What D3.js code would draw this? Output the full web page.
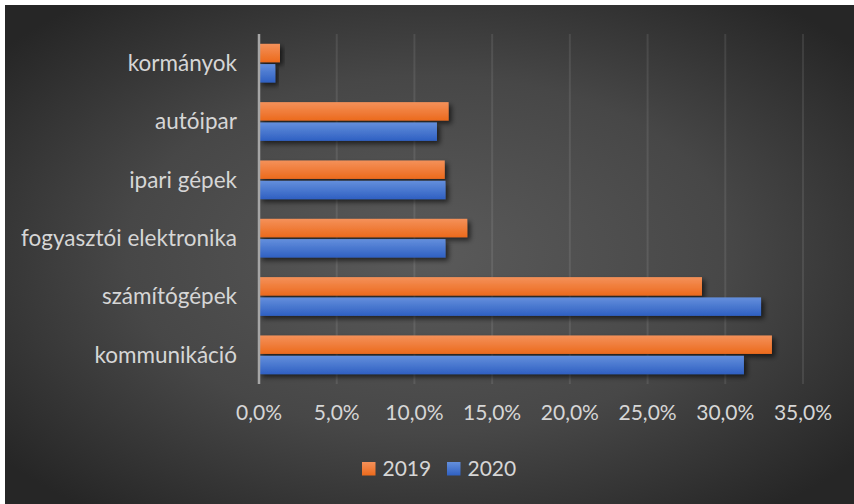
<!DOCTYPE html>
<html>
<head>
<meta charset="utf-8">
<script src="https://cdn.jsdelivr.net/npm/d3@7"></script>
<style>
  body { margin: 0; background: #fff; }
  text { font-family: Lato, "Open Sans", sans-serif; fill: #d6d6d6; }
</style>
</head>
<body>
<div id="chart"></div>
<script>
var categories = ["kormányok", "autóipar", "ipari gépek", "fogyasztói elektronika", "számítógépek", "kommunikáció"];
var seriesNames = ["2019", "2020"];
var values2019 = [1.35, 12.2, 11.95, 13.4, 28.5, 33.0];
var values2020 = [1.05, 11.45, 12.0, 12.0, 32.3, 31.2];
var tickValues = [0, 5, 10, 15, 20, 25, 30, 35];

var width = 854, height = 504;
var seriesValues = { "2019": values2019, "2020": values2020 };

var rows = categories.map(function(c, i) {
  return { cat: c, vals: seriesNames.map(function(s) { return { key: s, value: seriesValues[s][i] }; }) };
});

var svg = d3.select("#chart").append("svg")
  .attr("width", width)
  .attr("height", height);

var defs = svg.append("defs");

var bg = defs.append("radialGradient").attr("id", "bg")
  .attr("cx", "50%").attr("cy", "50%").attr("r", "65%");
bg.append("stop").attr("offset", "0%").attr("stop-color", "#5a5a5a");
bg.append("stop").attr("offset", "55%").attr("stop-color", "#474747");
bg.append("stop").attr("offset", "100%").attr("stop-color", "#262626");

var barColors = {
  "2019": ["#f4915a", "#ec6a1c"],
  "2020": ["#648fdc", "#2f60c2"]
};
seriesNames.forEach(function(s) {
  var g = defs.append("linearGradient").attr("id", "g" + s)
    .attr("x1", 0).attr("y1", 0).attr("x2", 0).attr("y2", 1);
  g.append("stop").attr("offset", "0%").attr("stop-color", barColors[s][0]);
  g.append("stop").attr("offset", "100%").attr("stop-color", barColors[s][1]);
});

var shadow = defs.append("filter").attr("id", "shadow")
  .attr("x", "-10%").attr("y", "-30%").attr("width", "130%").attr("height", "180%");
shadow.append("feDropShadow")
  .attr("dx", 3).attr("dy", 3).attr("stdDeviation", 2.5)
  .attr("flood-color", "#000").attr("flood-opacity", 0.6);

svg.append("rect")
  .attr("x", 5).attr("y", 5)
  .attr("width", width - 5).attr("height", height - 5)
  .attr("fill", "url(#bg)");

var x = d3.scaleLinear().domain([0, 35]).range([259, 803]);

var y = d3.scaleBand()
  .domain(categories)
  .range([34, 384])
  .paddingInner(0.336)
  .paddingOuter(0.168);

var ySub = d3.scaleBand()
  .domain(seriesNames)
  .range([0, y.bandwidth()])
  .paddingInner(0.09);

// gridlines
svg.append("g").selectAll("line")
  .data(tickValues.slice(1))
  .enter()
  .append("line")
  .attr("x1", function(d) { return x(d); })
  .attr("x2", function(d) { return x(d); })
  .attr("y1", 34).attr("y2", 384)
  .attr("stroke", "rgba(255,255,255,0.09)")
  .attr("stroke-width", 2);

// bars
var groups = svg.append("g").selectAll("g")
  .data(rows)
  .enter()
  .append("g")
  .attr("transform", function(d) { return "translate(0," + y(d.cat) + ")"; });

groups.selectAll("rect")
  .data(function(d) { return d.vals; })
  .enter()
  .append("rect")
  .attr("x", x(0))
  .attr("y", function(d) { return ySub(d.key); })
  .attr("width", function(d) { return x(d.value) - x(0); })
  .attr("height", ySub.bandwidth())
  .attr("fill", function(d) { return "url(#g" + d.key + ")"; })
  .attr("filter", "url(#shadow)");

// axis line at zero
svg.append("line")
  .attr("x1", x(0)).attr("x2", x(0))
  .attr("y1", 34).attr("y2", 384)
  .attr("stroke", "#a6a6a6")
  .attr("stroke-width", 2.5);

// category labels
svg.append("g").selectAll("text")
  .data(categories)
  .enter()
  .append("text")
  .attr("x", 237)
  .attr("y", function(d) { return y(d) + y.bandwidth() / 2; })
  .attr("dy", "0.35em")
  .attr("text-anchor", "end")
  .style("font-size", "22.5px")
  .text(function(d) { return d; });

// x tick labels
var hu = d3.formatLocale({ decimal: ",", thousands: " ", grouping: [3], currency: ["", " Ft"] });
var fmt = hu.format(".1f");

svg.append("g").selectAll("text")
  .data(tickValues)
  .enter()
  .append("text")
  .attr("x", function(d) { return x(d); })
  .attr("y", 413)
  .attr("dy", "0.35em")
  .attr("text-anchor", "middle")
  .style("font-size", "21px")
  .text(function(d) { return fmt(d) + "%"; });

// legend
var legendX = [362, 447];
var legend = svg.append("g").selectAll("g")
  .data(seriesNames)
  .enter()
  .append("g")
  .attr("transform", function(d, i) { return "translate(" + legendX[i] + ",462)"; });

legend.append("rect")
  .attr("width", 13.5).attr("height", 13.5)
  .attr("fill", function(d) { return "url(#g" + d + ")"; });

legend.append("text")
  .attr("x", 20.5)
  .attr("y", 7)
  .attr("dy", "0.35em")
  .style("font-size", "21px")
  .text(function(d) { return d; });
</script>
</body>
</html>
